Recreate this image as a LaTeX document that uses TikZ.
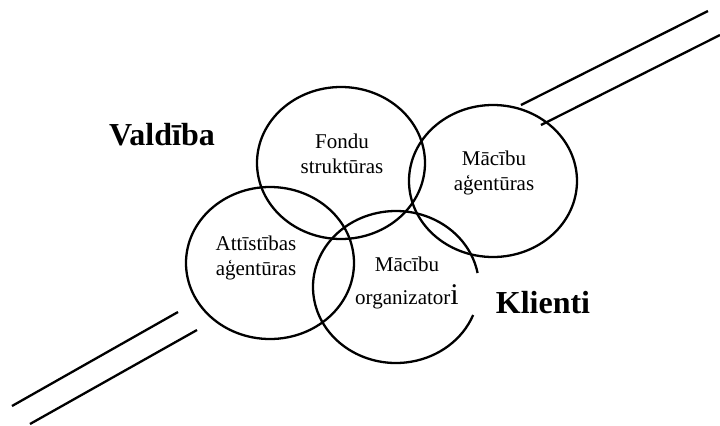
\documentclass[tikz,border=0pt]{standalone}
\usepackage{fontspec}
\setmainfont{Liberation Serif}
\usetikzlibrary{shapes.geometric}

\begin{document}
\begin{tikzpicture}[x=0.5pt, y=-0.5pt,
    ring/.style={ellipse, draw, line width=1.15pt, minimum width=84pt, minimum height=76pt, inner sep=0pt},
    ringtext/.style={align=center, font=\fontsize{10.5}{12.5}\selectfont},
    sidetext/.style={anchor=base, font=\fontsize{16}{19}\selectfont\bfseries},
    rail/.style={line width=1.15pt}]
  \useasboundingbox (0,0) rectangle (720,425);

  % Double lines
  \draw[rail] (521,105) -- (708,11);
  \draw[rail] (541,125) -- (720,35);
  \draw[rail] (12,406) -- (178,312);
  \draw[rail] (30,424) -- (197,330);

  % Circles
  \node[ring] (fondu) at (341,163) {};
  \node[ring] (macag) at (493,181) {};
  \node[ring] (attag) at (270,263) {};
  \node[ring, draw=none] (macorg) at (396,287) {};
  \draw[line width=1.15pt] ([shift={(10.6:41.5pt and 38pt)}]macorg.center)
    arc[start angle=10.6, end angle=338.4, x radius=41.5pt, y radius=38pt];

  % Texts in the circles
  \node[ringtext] (fonduT) at (342,154) {Fondu\\struktūras};
  \node[ringtext] (macagT) at (494,173) {Mācību\\aģentūras};
  \node[ringtext] (attagT) at (256,258) {Attīstības\\aģentūras};
  \node[ringtext] (macorgT) at (407,283) {Mācību\\[4pt]organizator{\fontsize{15}{15}\selectfont i}};

  % Sides
  \node[sidetext] (valdiba) at (162,145) {Valdība};
  \node[sidetext] (klienti) at (543,313) {Klienti};
\end{tikzpicture}
\end{document}
